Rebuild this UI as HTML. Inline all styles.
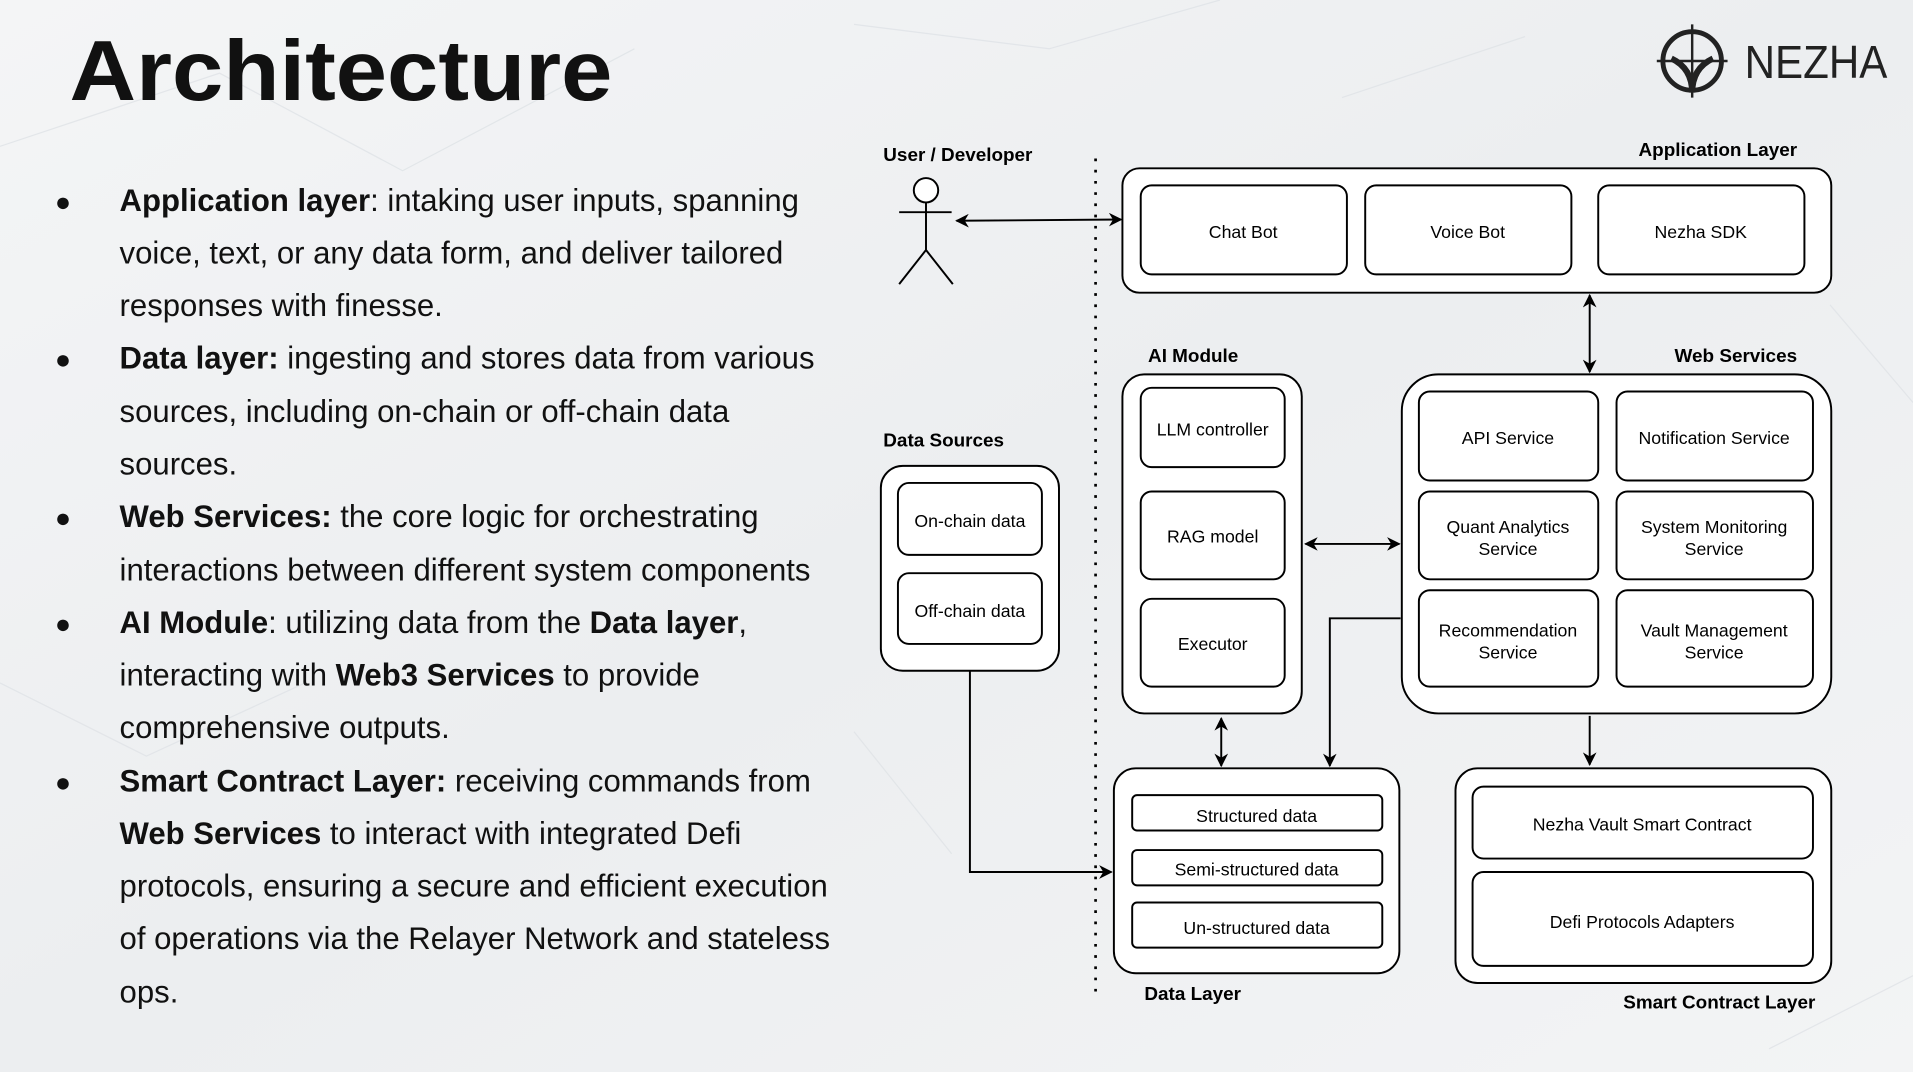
<!DOCTYPE html>
<html><head><meta charset="utf-8"><style>
html,body{margin:0;padding:0;width:1913px;height:1072px;overflow:hidden;background:#f0f1f3}
svg{display:block}
</style></head><body>
<svg width="1913" height="1072" viewBox="0 0 1568 879" preserveAspectRatio="none" xmlns="http://www.w3.org/2000/svg" font-family="Liberation Sans, Arial, sans-serif">
<defs>
<linearGradient id="bg" x1="0" y1="0" x2="1" y2="1"><stop offset="0" stop-color="#f4f5f6"/><stop offset="0.5" stop-color="#eceef0"/><stop offset="1" stop-color="#f3f4f5"/></linearGradient>
<marker id="a" viewBox="0 0 10 10" refX="9" refY="5" markerWidth="7" markerHeight="7" orient="auto-start-reverse"><path d="M0,0 L10,5 L0,10 L3,5 z" fill="#000"/></marker>
</defs>
<rect width="1568" height="879" fill="url(#bg)"/>
<g stroke="#dfe2e6" stroke-width="1" fill="none" opacity="0.8">
<path d="M0,120 L180,60 L330,140 L520,40 M700,20 L860,40 L1000,0 M1100,80 L1250,30 M1500,250 L1568,330 M0,560 L120,620 L250,560 M1450,860 L1568,800 M700,600 L780,700"/>
</g>
<text x="57" y="82" font-size="70" font-weight="bold" fill="#111" textLength="445" lengthAdjust="spacingAndGlyphs">Architecture</text>
<g font-size="25.5" fill="#111">
<g font-size="22"><text x="45" y="173">●</text><text x="45" y="302">●</text><text x="45" y="432">●</text><text x="45" y="519">●</text><text x="45" y="649">●</text></g>
<text x="98" y="173"><tspan font-weight="bold">Application layer</tspan>: intaking user inputs, spanning</text>
<text x="98" y="216">voice, text, or any data form, and deliver tailored</text>
<text x="98" y="259">responses with finesse.</text>
<text x="98" y="302"><tspan font-weight="bold">Data layer:</tspan> ingesting and stores data from various</text>
<text x="98" y="346">sources, including on-chain or off-chain data</text>
<text x="98" y="389">sources.</text>
<text x="98" y="432"><tspan font-weight="bold">Web Services:</tspan> the core logic for orchestrating</text>
<text x="98" y="476">interactions between different system components</text>
<text x="98" y="519"><tspan font-weight="bold">AI Module</tspan>: utilizing data from the <tspan font-weight="bold">Data layer</tspan>,</text>
<text x="98" y="562">interacting with <tspan font-weight="bold">Web3 Services</tspan> to provide</text>
<text x="98" y="605">comprehensive outputs.</text>
<text x="98" y="649"><tspan font-weight="bold">Smart Contract Layer:</tspan>  receiving commands from</text>
<text x="98" y="692"><tspan font-weight="bold">Web Services</tspan> to interact with integrated Defi</text>
<text x="98" y="735">protocols, ensuring a secure and efficient execution</text>
<text x="98" y="778">of operations via the Relayer Network and stateless</text>
<text x="98" y="822">ops.</text>
</g>
<!-- logo -->
<g stroke="#222" fill="none" stroke-width="4">
<circle cx="1387" cy="50" r="24"/>
<path d="M1387,20 V80 M1358,50 H1416" stroke-width="2"/>
<path d="M1370,48 Q1387,56 1387,76 Q1387,56 1404,48" stroke-width="5"/>
</g>
<text x="1430" y="64" font-size="38" fill="#222" textLength="117" lengthAdjust="spacingAndGlyphs">NEZHA</text>
<!-- diagram -->
<g stroke="#000" stroke-width="1.6" fill="#fff">
<rect x="920" y="138" width="581" height="102" rx="14"/>
<rect x="935" y="152" width="169" height="73" rx="9"/>
<rect x="1119" y="152" width="169" height="73" rx="9"/>
<rect x="1310" y="152" width="169" height="73" rx="9"/>
<rect x="920" y="307" width="147" height="278" rx="18"/>
<rect x="935" y="318" width="118" height="65" rx="9"/>
<rect x="935" y="403" width="118" height="72" rx="9"/>
<rect x="935" y="491" width="118" height="72" rx="9"/>
<rect x="1149" y="307" width="352" height="278" rx="30"/>
<rect x="1163" y="321" width="147" height="73" rx="9"/>
<rect x="1325" y="321" width="161" height="73" rx="9"/>
<rect x="1163" y="403" width="147" height="72" rx="9"/>
<rect x="1325" y="403" width="161" height="72" rx="9"/>
<rect x="1163" y="484" width="147" height="79" rx="9"/>
<rect x="1325" y="484" width="161" height="79" rx="9"/>
<rect x="722" y="382" width="146" height="168" rx="18"/>
<rect x="736" y="396" width="118" height="59" rx="9"/>
<rect x="736" y="470" width="118" height="58" rx="9"/>
<rect x="913" y="630" width="234" height="168" rx="18"/>
<rect x="928" y="652" width="205" height="29" rx="4"/>
<rect x="928" y="697" width="205" height="29" rx="4"/>
<rect x="928" y="740" width="205" height="37" rx="4"/>
<rect x="1193" y="630" width="308" height="176" rx="18"/>
<rect x="1207" y="645" width="279" height="59" rx="9"/>
<rect x="1207" y="715" width="279" height="77" rx="9"/>
<circle cx="759" cy="156" r="10"/>
</g>
<g stroke="#000" stroke-width="1.6" fill="none">
<path d="M759,166 V205 M737,174 H780 M759,205 L737,233 M759,205 L781,233"/>
<path d="M898,130 V815" stroke-width="2.2" stroke-dasharray="2.2,7"/>
<path d="M784,181 L919,180" marker-start="url(#a)" marker-end="url(#a)"/>
<path d="M1303,242 V305" marker-start="url(#a)" marker-end="url(#a)"/>
<path d="M1070,446 H1147" marker-start="url(#a)" marker-end="url(#a)"/>
<path d="M795,550 V715 H911" marker-end="url(#a)"/>
<path d="M1001,589 V628" marker-start="url(#a)" marker-end="url(#a)"/>
<path d="M1148,507 H1090 V628" marker-end="url(#a)"/>
<path d="M1303,587 V627" marker-end="url(#a)"/>
</g>
<g font-size="14.5" fill="#000" text-anchor="middle">
<text x="1019" y="195">Chat Bot</text>
<text x="1203" y="195">Voice Bot</text>
<text x="1394" y="195">Nezha SDK</text>
<text x="994" y="357">LLM controller</text>
<text x="994" y="445">RAG model</text>
<text x="994" y="533">Executor</text>
<text x="1236" y="364">API Service</text>
<text x="1405" y="364">Notification Service</text>
<text x="1236" y="437">Quant Analytics</text><text x="1236" y="455">Service</text>
<text x="1405" y="437">System Monitoring</text><text x="1405" y="455">Service</text>
<text x="1236" y="522">Recommendation</text><text x="1236" y="540">Service</text>
<text x="1405" y="522">Vault Management</text><text x="1405" y="540">Service</text>
<text x="795" y="432">On-chain data</text>
<text x="795" y="506">Off-chain data</text>
<text x="1030" y="674">Structured data</text>
<text x="1030" y="718">Semi-structured data</text>
<text x="1030" y="766">Un-structured data</text>
<text x="1346" y="681">Nezha Vault Smart Contract</text>
<text x="1346" y="761">Defi Protocols Adapters</text>
</g>
<g font-size="15.5" font-weight="bold" fill="#000">
<text x="724" y="132">User / Developer</text>
<text x="1473" y="128" text-anchor="end">Application Layer</text>
<text x="941" y="297">AI Module</text>
<text x="1473" y="297" text-anchor="end">Web Services</text>
<text x="724" y="366">Data Sources</text>
<text x="938" y="820">Data Layer</text>
<text x="1488" y="827" text-anchor="end">Smart Contract Layer</text>
</g>
</svg>
</body></html>
